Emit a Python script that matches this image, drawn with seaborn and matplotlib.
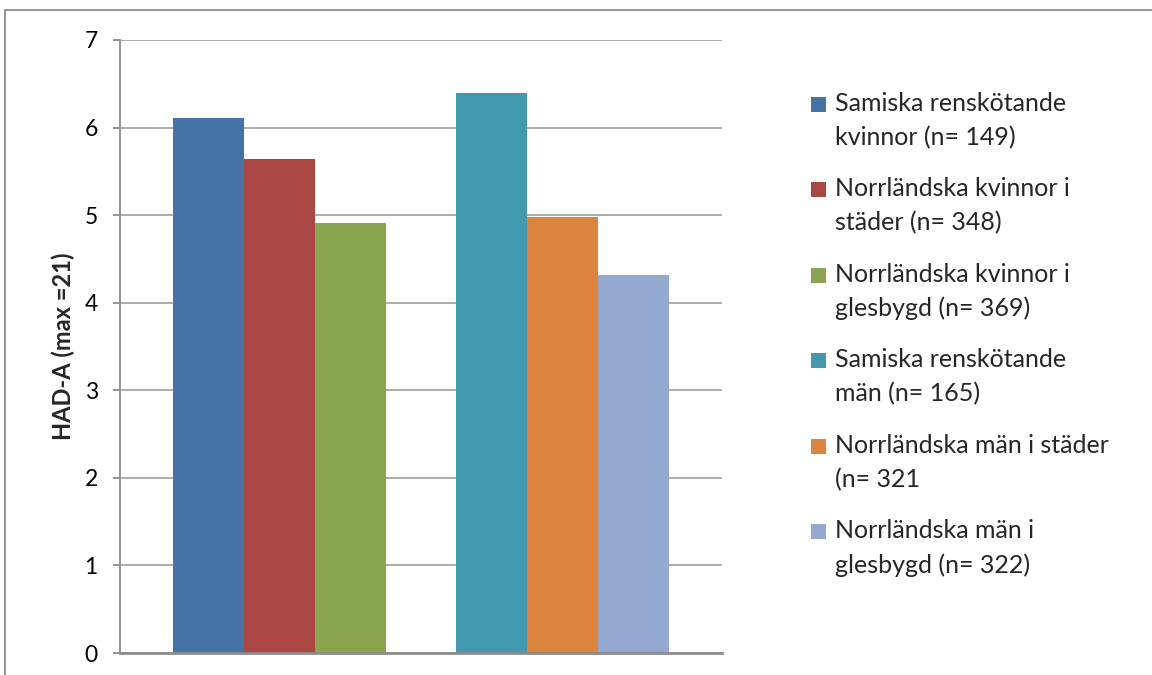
import pandas as pd
import matplotlib
matplotlib.use('Agg')
import matplotlib.pyplot as plt
import seaborn as sns
from matplotlib.patches import Patch, Rectangle
from matplotlib.legend_handler import HandlerPatch

# --- Data ---
groups = ['Kvinnor', 'Män']
slots = ['a', 'b', 'c']
labels = [
    'Samiska renskötande\nkvinnor (n= 149)',
    'Norrländska kvinnor i\nstäder (n= 348)',
    'Norrländska kvinnor i\nglesbygd (n= 369)',
    'Samiska renskötande\nmän (n= 165)',
    'Norrländska män i städer\n(n= 321',
    'Norrländska män i\nglesbygd (n= 322)',
]
values = [6.11, 5.64, 4.91, 6.40, 4.98, 4.32]
colors = ['#4572A7', '#AA4643', '#89A54E', '#4198AF', '#DB843D', '#93A9CF']
y_ticks = [0, 1, 2, 3, 4, 5, 6, 7]

df = pd.DataFrame({
    'group': [g for g in groups for s in slots],
    'slot': [s for g in groups for s in slots],
    'label': labels,
    'value': values,
})

# --- Style ---
sns.set_style('white')
plt.rcParams['font.family'] = ['Lato', 'DejaVu Sans']
GREY = '#8C8C8C'

fig = plt.figure(figsize=(11.52, 6.75), dpi=100)
ax = fig.add_axes([120 / 1152, 1 - 653 / 675, 602 / 1152, 613 / 675])

sns.barplot(data=df, x='group', y='value', hue='slot', order=groups, hue_order=slots,
            width=0.75, gap=0, dodge=True, saturation=1, errorbar=None,
            legend=False, ax=ax)

# colour each bar by its (group, slot)
color_of = dict(zip(zip(df['group'], df['slot']), colors))
for slot, cont in zip(slots, ax.containers):
    for bar in cont:
        g = groups[int(round(bar.get_x() + bar.get_width() / 2))]
        bar.set_facecolor(color_of[(g, slot)])
        bar.set_edgecolor('none')

ax.set_xlim(-0.5606, 1.5606)
ax.set_ylim(0, 7)
ax.set_yticks(y_ticks)
ax.set_axisbelow(True)
ax.yaxis.grid(True, color='#A6A6A6', lw=1.3)
ax.xaxis.grid(False)

for side in ['top', 'right']:
    ax.spines[side].set_visible(False)
ax.spines['left'].set_color(GREY)
ax.spines['left'].set_linewidth(1.3)
ax.spines['bottom'].set_color(GREY)
ax.spines['bottom'].set_linewidth(2)

ax.tick_params(axis='y', left=True, length=5, width=1.3, color=GREY, direction='out',
               pad=11, labelsize=16.5, labelcolor='black')
ax.tick_params(axis='x', bottom=False, labelbottom=False)
ax.set_xlabel('')
ax.set_ylabel('HAD-A (max =21)', fontsize=17, fontweight='bold', labelpad=7)

# chart-area border (runs off the right and bottom edges)
fig.add_artist(Rectangle((5 / 1152, -0.05), 1.1, 1.05 - 10 / 675, transform=fig.transFigure,
                         fill=False, ec=GREY, lw=1.3))

# --- Legend: square sits on the first text line ---
FS = 18


def square_up(legend, orig_handle, xdescent, ydescent, width, height, fontsize):
    side = 0.6 * fontsize
    return Rectangle((-xdescent, 0.73 * fontsize), side, side)


handles = [Patch(facecolor=c, edgecolor='none') for c in colors]
leg = fig.legend(handles, labels, loc='upper left', bbox_to_anchor=(811 / 1152, 1 - 92 / 675),
                 frameon=False, fontsize=FS, handlelength=0.6, handleheight=0.6,
                 handletextpad=0.35, labelspacing=1.12, borderpad=0, borderaxespad=0,
                 handler_map={Patch: HandlerPatch(patch_func=square_up)})
for t in leg.get_texts():
    t.set_linespacing(1.57)

fig.savefig('out.png', dpi=100)
